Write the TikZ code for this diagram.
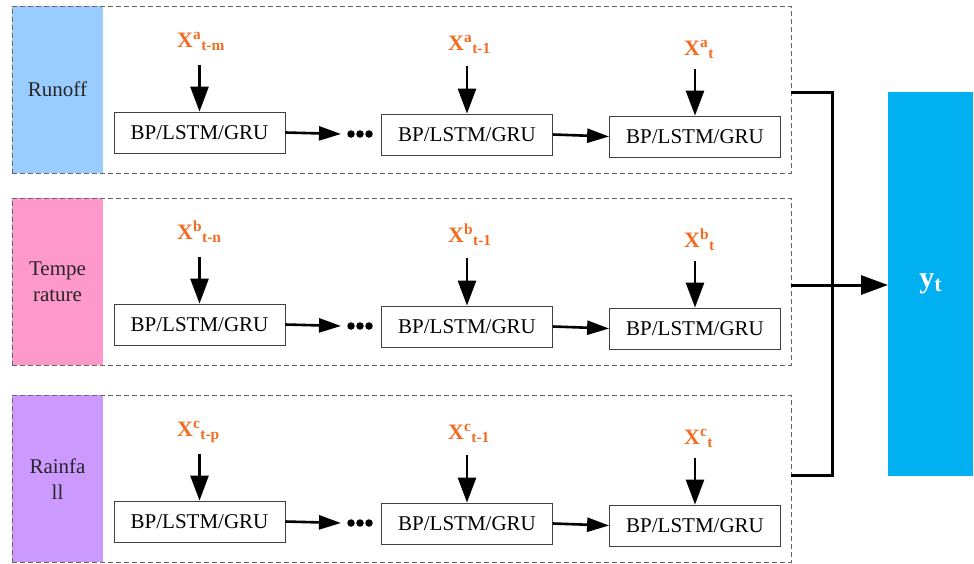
\documentclass[tikz,border=0pt]{standalone}
\usepackage{fontspec}
\setmainfont{Liberation Serif}
\newfontfamily\tnr{Liberation Serif}
\usetikzlibrary{arrows.meta}
\definecolor{runoffc}{HTML}{99CCFF}
\definecolor{tempc}{HTML}{FF99CC}
\definecolor{rainc}{HTML}{CC99FF}
\definecolor{xorange}{HTML}{F26B21}
\definecolor{ycol}{HTML}{00B0F0}
\begin{document}
\begin{tikzpicture}[x=1pt,y=-1pt,
  frame/.style={draw=black!60, dash pattern=on 5pt off 3pt, line width=0.8pt, fill=none},
  strip/.style={fill=#1, draw=none},
  striplbl/.style={font=\tnr\fontsize{21}{26}\selectfont, align=center, text=black!85},
  cell/.style={draw=black!75, line width=0.8pt, fill=white, minimum width=171pt, minimum height=41pt, inner sep=0pt, font=\tnr\fontsize{21}{24}\selectfont},
  xin/.style={text=xorange, anchor=base west, inner sep=0pt, font=\tnr\bfseries\fontsize{22}{24}\selectfont},
  inarrow/.style={line width=2.6pt, -{Triangle[length=25pt,width=18pt]}},
  harrow/.style={line width=2.6pt, -{Triangle[length=22pt,width=14pt]}},
  bracket/.style={line width=3pt},
  barrow/.style={line width=3pt, -{Triangle[length=27pt,width=19pt]}},
  dot/.style={circle, fill=black, inner sep=0pt, minimum size=7.5pt}
]
\useasboundingbox (0,0) rectangle (974,563);

\foreach \r/\d/\sup/\sub/\col/\lbl/\ly in {1/0/a/m/runoffc/Runoff/89, 2/192/b/n/tempc/{Tempe\\rature}/90, 3/389/c/p/rainc/{Rainfa\\ll}/90}{
  \fill[strip=\col] (12,6+\d) rectangle (103,173+\d);
  \node[frame, minimum width=779pt, minimum height=167pt, anchor=north west, inner sep=0pt] (f\r) at (12,6+\d) {};
  \node[striplbl] (l\r) at (57.5,\ly+\d) {\lbl};
  \node[cell] (b\r1) at (199.5,132.5+\d) {BP/LSTM/GRU};
  \node[cell] (b\r2) at (467,134.5+\d) {BP/LSTM/GRU};
  \node[cell] (b\r3) at (695,136.5+\d) {BP/LSTM/GRU};
  \node[xin] (x\r1) at (177,47+\d) {X\textsuperscript{\sup}\textsubscript{t-\sub}};
  \node[xin] (x\r2) at (448,50+\d) {X\textsuperscript{\sup}\textsubscript{t-1}};
  \node[xin] (x\r3) at (684,55+\d) {X\textsuperscript{\sup}\textsubscript{t}};
  \coordinate (s\r1) at (199.5,65+\d);
  \coordinate (s\r2) at (467,66+\d);
  \coordinate (s\r3) at (695,69+\d);
  \draw[inarrow] (s\r1) -- (b\r1.north);
  \draw[inarrow] (s\r2) -- (b\r2.north);
  \draw[inarrow] (s\r3) -- (b\r3.north);
  \node[dot] (d\r a) at (351,134+\d) {};
  \node[dot] (d\r b) at (360,134+\d) {};
  \node[dot] (d\r c) at (369,134+\d) {};
  \coordinate (e\r) at (341,134+\d);
  \draw[harrow] (b\r1.east) -- (e\r);
  \draw[harrow] (b\r2.east) -- (b\r3.west);
}

\node[fill=ycol, minimum width=85pt, minimum height=384pt, inner sep=0pt, anchor=north west,
      text=white, font=\tnr\bfseries\fontsize{30}{32}\selectfont] (yt) at (888,92) {y\textsubscript{\fontsize{22}{24}\selectfont t}};

\coordinate (o1) at (791,92);
\coordinate (o2) at (791,285);
\coordinate (o3) at (791,475);
\coordinate (k1) at (832,92);
\coordinate (k3) at (832,475);
\draw[bracket] (o1) -- (k1) -- (k3) -- (o3);
\draw[barrow] (o2) -- (yt.west |- o2);
\end{tikzpicture}
\end{document}
